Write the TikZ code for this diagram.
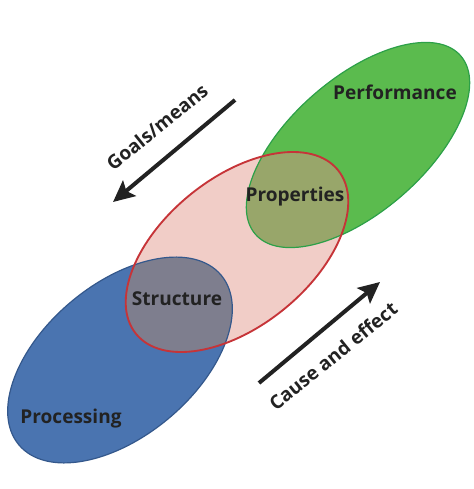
\documentclass[tikz,border=0pt]{standalone}
\usepackage{fontspec}
\setmainfont{Open Sans}
\usetikzlibrary{arrows.meta}

\definecolor{procblue}{RGB}{74,116,176}
\definecolor{procline}{RGB}{52,88,140}
\definecolor{perfgreen}{RGB}{91,187,78}
\definecolor{perfline}{RGB}{44,160,72}
\definecolor{proppink}{RGB}{241,205,199}
\definecolor{propline}{RGB}{198,52,56}
\definecolor{structgray}{RGB}{126,126,142}
\definecolor{propolive}{RGB}{152,166,106}
\definecolor{txtgray}{RGB}{34,34,34}

\tikzset{
  lbl/.style={inner sep=0.75pt, font=\fontsize{14.3}{17}\selectfont\bfseries, text=txtgray},
  bigarrow/.style={line width=3pt, draw=txtgray, -{Stealth[length=16pt,width=15pt,inset=3pt]}}
}

\begin{document}
\begin{tikzpicture}[x=0.75pt,y=0.75pt,yscale=-1,xscale=1]
\useasboundingbox (0,0) rectangle (474,489);

%Shape: Ellipse [processing]
\fill[procblue, rotate around={-40:(120,360)}] (120,360) ellipse (132 and 76);
%Shape: Ellipse [performance]
\fill[perfgreen, rotate around={-41:(358,145)}] (358,145) ellipse (136 and 67);
%Shape: Ellipse [properties]
\fill[proppink, rotate around={-39:(237,252)}] (237,252) ellipse (130 and 74);

%Overlaps: structure, properties
\begin{scope}
\clip[rotate around={-39:(237,252)}] (237,252) ellipse (130 and 74);
\fill[structgray, rotate around={-40:(120,360)}] (120,360) ellipse (132 and 76);
\fill[propolive, rotate around={-41:(358,145)}] (358,145) ellipse (136 and 67);
\end{scope}

%Outlines
\draw[procline, line width=0.9pt, rotate around={-40:(120,360)}] (120,360) ellipse (132 and 76);
\draw[perfline, line width=0.9pt, rotate around={-41:(358,145)}] (358,145) ellipse (136 and 67);
\draw[propline, line width=1.4pt, rotate around={-39:(237,252)}] (237,252) ellipse (130 and 74);

%Arrows
\coordinate (gmA) at (235,100);
\coordinate (gmB) at (113,202);
\coordinate (ceA) at (259,383);
\coordinate (ceB) at (380,282);
\draw[bigarrow] (gmA) -- (gmB);
\draw[bigarrow] (ceA) -- (ceB);

% Text Node
\node[lbl] (perf) at (395,92) {Performance};
% Text Node
\node[lbl] (prop) at (295,197) {Properties};
% Text Node
\node[lbl] (struct) at (177,299) {Structure};
% Text Node
\node[lbl] (proc) at (71,419) {Processing};
% Text Node
\node[lbl, rotate=39] (goals) at (157,127) {Goals/means};
% Text Node
\node[lbl, rotate=39] (cause) at (333,356) {Cause and effect};

\end{tikzpicture}
\end{document}
